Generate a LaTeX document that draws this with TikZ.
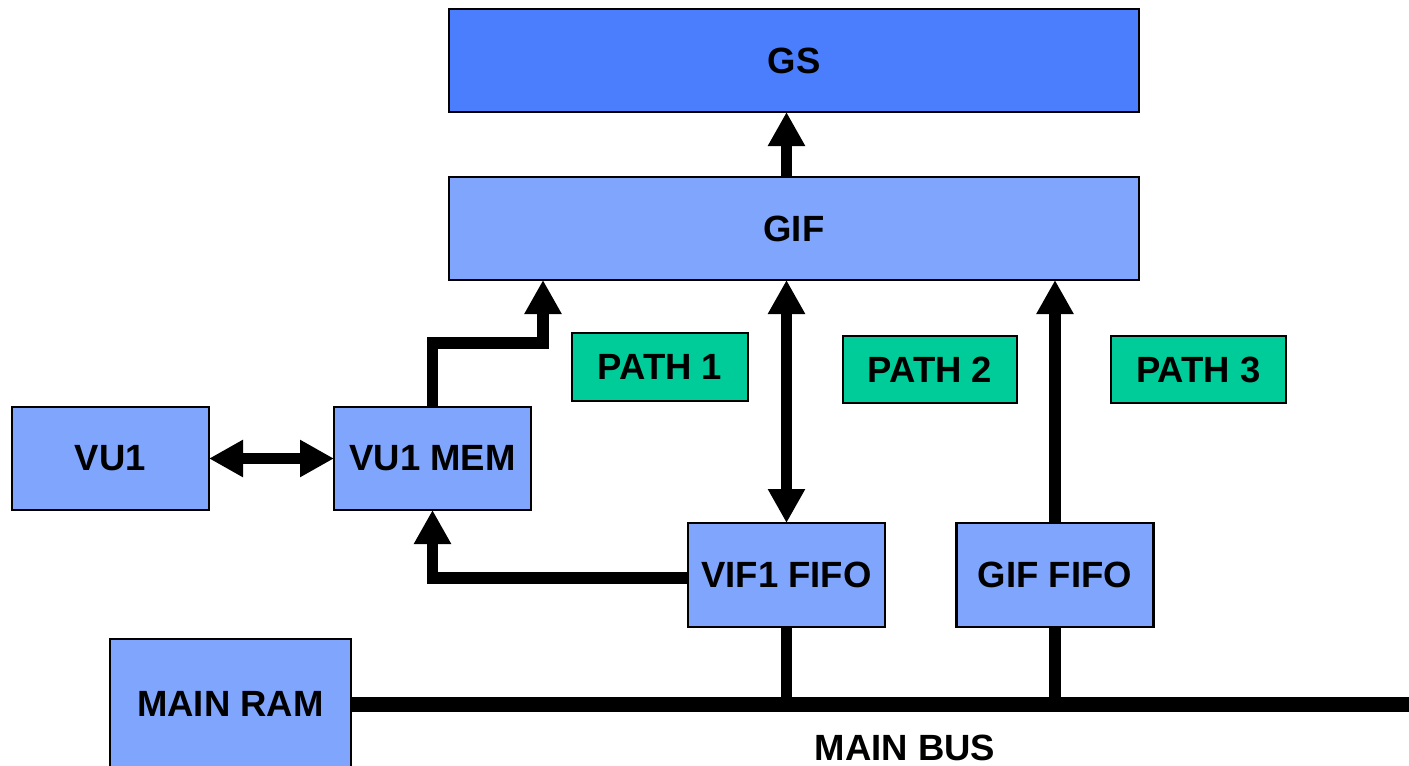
\documentclass[tikz,border=0pt]{standalone}
\usepackage{fontspec}
\setmainfont{Liberation Sans}
\usetikzlibrary{arrows.meta}
\definecolor{gsblue}{RGB}{74,126,253}
\definecolor{boxblue}{RGB}{128,165,252}
\definecolor{pathgreen}{RGB}{0,204,153}
\tikzset{
  blk/.style={draw=black, line width=2.5pt, fill=boxblue, inner sep=0pt, outer sep=0pt,
    font=\fontsize{36.5}{40}\selectfont\bfseries, text=black},
  pathlbl/.style={blk, fill=pathgreen},
  arr/.style={line width=11.5pt, -{Triangle[width=35pt,length=34pt]}},
  darr/.style={line width=11.5pt, {Triangle[width=35pt,length=34pt]}-{Triangle[width=35pt,length=34pt]}},
  conn/.style={line width=11.5pt},
  busline/.style={line width=15pt},
  lbl/.style={font=\fontsize{36.5}{40}\selectfont\bfseries, inner sep=0pt}
}
\begin{document}
\begin{tikzpicture}[x=1pt,y=-1pt]
\useasboundingbox (0,0) rectangle (1409,766);
\clip (0,0) rectangle (1409,766);
% boxes
\node[blk, fill=gsblue, minimum width=690pt, minimum height=103pt] (gs) at (794,60.5) {GS};
\node[blk, minimum width=690pt, minimum height=103pt] (gif) at (794,228.5) {GIF};
\node[blk, minimum width=197pt, minimum height=103pt] (vu1) at (110.5,458.5) {VU1};
\node[blk, minimum width=197pt, minimum height=103pt] (mem) at (432.5,458.5) {VU1 MEM};
\node[blk, minimum width=197pt, minimum height=104pt] (vif) at (786.5,575) {VIF1 FIFO};
\node[blk, minimum width=197pt, minimum height=104pt] (giff) at (1055,575) {GIF FIFO};
\node[pathlbl, minimum width=176pt, minimum height=68pt] (p1box) at (660,367) {PATH 1};
\node[pathlbl, minimum width=174pt, minimum height=67pt] (p2box) at (930,369.5) {PATH 2};
\node[pathlbl, minimum width=175pt, minimum height=67pt] (p3box) at (1198.5,369.5) {PATH 3};
\node[blk, minimum width=241pt, minimum height=130pt] (ram) at (230.5,704) {MAIN RAM};
\node[lbl] (buslbl) at (905,748) {MAIN BUS};
% helper coordinates
\coordinate (p1) at (543,343);
\coordinate (busend) at (1425,704);
% connectors
\draw[arr] (gif.north -| vif.north) -- (gs.south -| vif.north);
\draw[darr] (vif.north) -- (vif.north |- gif.south);
\draw[arr] (giff.north) -- (giff.north |- gif.south);
\draw[arr] (mem.north) |- (p1) -- (p1 |- gif.south);
\draw[arr] ([yshift=-3pt]vif.west) -| (mem.south);
\draw[darr] (vu1.east) -- (mem.west);
\draw[busline] (ram.east) -- (busend);
\draw[conn] (vif.south) -- (vif.south |- ram.east);
\draw[conn] (giff.south) -- (giff.south |- ram.east);
\end{tikzpicture}
\end{document}
